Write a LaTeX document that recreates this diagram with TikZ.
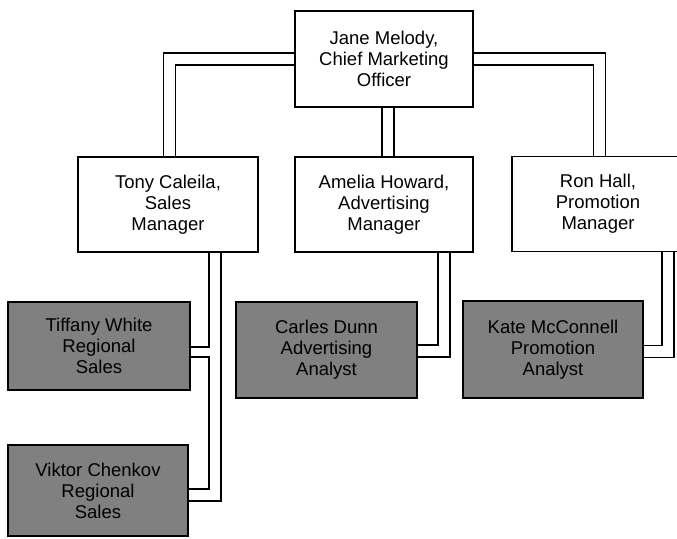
\documentclass[tikz,border=0pt]{standalone}
\usepackage{fontspec}
\setmainfont{Liberation Sans}
\usetikzlibrary{backgrounds}
\begin{document}
\begin{tikzpicture}[x=1pt,y=-1pt,
  card/.style={draw=black, line width=1.2pt, rectangle, inner sep=0pt, align=center,
    font=\fontsize{18.5}{21}\selectfont},
  mgr/.style={card, fill=white},
  staff/.style={card, fill=black!50, text=black},
  pipe/.style={draw=black, line width=1.6pt, double=white, double distance=10.4pt},
  thinpipe/.style={pipe, double distance=8.6pt}]
\useasboundingbox (0,0) rectangle (677,538);
\clip (0,0) rectangle (677,538);
% managers
\node[mgr, minimum width=178pt, minimum height=96pt] (top) at (384,59) {Jane Melody,\\Chief Marketing\\Officer};
\node[mgr, minimum width=180pt, minimum height=95pt] (tony) at (168,204.5) {Tony Caleila,\\Sales\\Manager};
\node[mgr, minimum width=178pt, minimum height=95pt] (amelia) at (384,204.5) {Amelia Howard,\\Advertising\\Manager};
\node[mgr, minimum width=172pt, minimum height=95pt] (ron) at (598,204) {Ron Hall,\\Promotion\\Manager};
% staff
\node[staff, minimum width=182pt, minimum height=88pt] (tiffany) at (99,346) {Tiffany White\\Regional\\Sales};
\node[staff, minimum width=180pt, minimum height=91pt] (viktor) at (98,490.5) {Viktor Chenkov\\Regional\\Sales};
\node[staff, minimum width=181pt, minimum height=96pt] (carles) at (326.5,350) {Carles Dunn\\Advertising\\Analyst};
\node[staff, minimum width=180pt, minimum height=97pt] (kate) at (553,349.5) {Kate McConnell\\Promotion\\Analyst};
\coordinate (tj) at (209.8,352);
\begin{pgfonlayer}{background}
  \draw[pipe] (top.west) -| ([xshift=1.5pt]tony.north);
  \draw[pipe] ([xshift=4pt]top.south) -- ([xshift=4pt]amelia.north);
  \draw[pipe] (top.east) -| ([xshift=1.5pt]ron.north);
  \draw[pipe] ([xshift=47pt]tony.south) |- ([yshift=-4.5pt]viktor.east);
  \draw[thinpipe] (tiffany.east |- tj) -- (tj);
  \draw[pipe] ([xshift=60pt]amelia.south) |- ([yshift=-1pt]carles.east);
  \draw[pipe] ([xshift=70pt]ron.south) |- ([yshift=-2pt]kate.east);
\end{pgfonlayer}
\end{tikzpicture}
\end{document}
